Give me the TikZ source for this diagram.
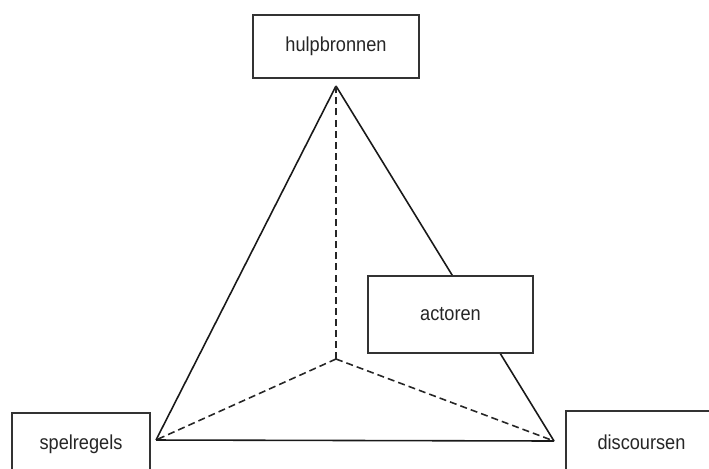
\documentclass[tikz,border=0pt]{standalone}
\usepackage{fontspec}
\setmainfont{Liberation Sans}[FakeStretch=0.9]
\usetikzlibrary{positioning}

\begin{document}
\begin{tikzpicture} [
  x = 0.02cm, y = -0.02cm,
  vak/.style = {rectangle, draw = black!80, line width = 0.8pt, fill = white,
    inner sep = 0pt, text = black!85, font = \fontsize{11.5}{13}\selectfont},
  zijde/.style = {draw = black!90, line width = 0.9pt},
  streep/.style = {draw = black!85, line width = 0.9pt, dash pattern = on 4pt off 2.3pt},
]

 \useasboundingbox (0,0) rectangle (709,468);

 % hoekpunten van de driehoek
 \coordinate (top) at (336,86);
 \coordinate (links) at (156,440);
 \coordinate (rechts) at (554,441);
 \coordinate (midden) at (336,359);

 \begin{scope}[every path/.style = zijde]
\path (top) -- (links) ;
\path (top) -- (rechts) ;
\path (links) -- (rechts) ;
 \end{scope}

 \begin{scope}[every path/.style = streep]
\path (midden) -- (top) ;
\path (midden) -- (links) ;
\path (midden) -- (rechts) ;
 \end{scope}

 \node [vak, minimum width = 3.32cm, minimum height = 1.26cm] (hulp) at (336,46.5) {hulpbronnen};
 \node [vak, minimum width = 3.30cm, minimum height = 1.54cm] (act) at (450.5,314.5) {actoren};
 \node [vak, minimum width = 2.76cm, minimum height = 1.26cm] (spel) at (81,444.5) {spelregels};
 \node [vak, minimum width = 3.02cm, minimum height = 1.26cm] (disc) at (641.5,442.5) {discoursen};

\end{tikzpicture}
\end{document}
